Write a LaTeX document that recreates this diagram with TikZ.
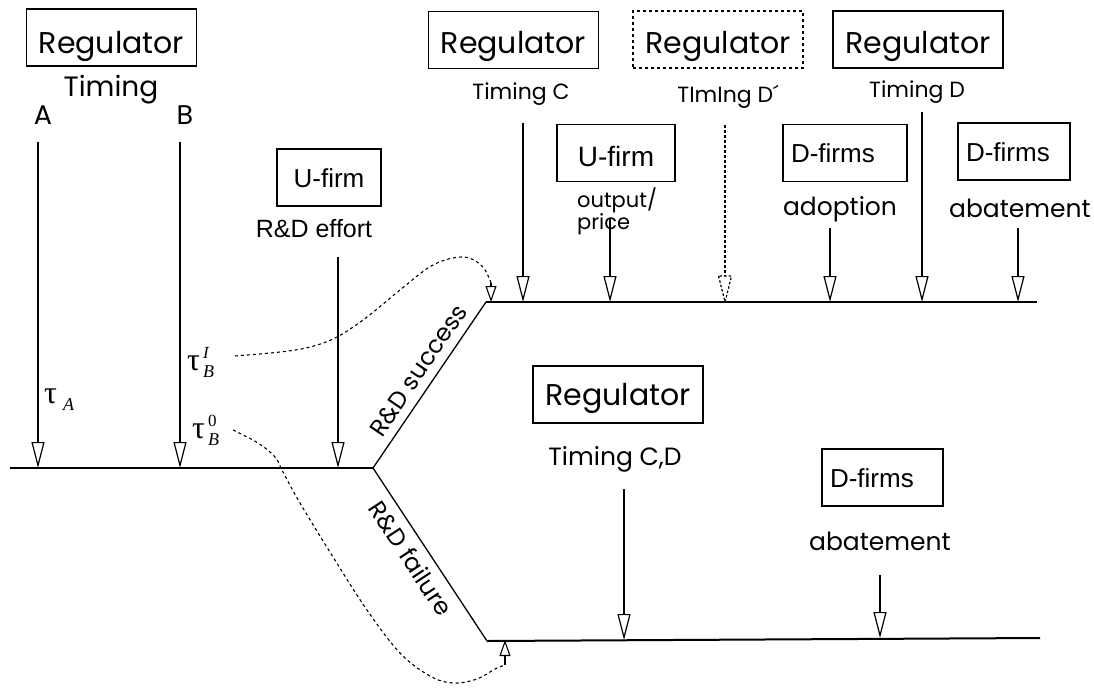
\documentclass[tikz,border=0pt]{standalone}
\usepackage{fontspec}
\newfontfamily\gf{Poppins}
\newfontfamily\af{Liberation Sans}
\newfontfamily\lsr{Liberation Serif}
\newcommand\taum{{\lsr\fontsize{32}{32}\selectfont τ}}
\newcommand\tsub[1]{\raisebox{-7pt}{\lsr\itshape\fontsize{18}{18}\selectfont #1}}
\newcommand\tsup[1]{\raisebox{12pt}{\rlap{\lsr\fontsize{17}{18}\selectfont #1}}}
\usetikzlibrary{arrows.meta}
\begin{document}
\begin{tikzpicture}[x=1pt,y=-1pt,
  reg/.style={draw, line width=1.5pt, minimum width=170pt, minimum height=57pt, inner sep=0pt,
    font=\gf\fontsize{30}{34}\selectfont, text depth=0pt},
  fbox/.style={draw, line width=1.3pt, minimum height=57pt, inner sep=0pt, text depth=0pt,
    font=\af\fontsize{26}{30}\selectfont},
  dfbox/.style={fbox, align=left, inner xsep=8pt, text height=19pt},
  lbl/.style={inner sep=0pt, anchor=base},
  gsmall/.style={font=\gf\fontsize{22}{26}\selectfont},
  gmid/.style={font=\gf\fontsize{25}{28}\selectfont},
  varrow/.style={line width=2.4pt, -{Triangle[open, length=26pt, width=13pt, line width=1.2pt]}},
  tline/.style={line width=2pt},
  brline/.style={line width=1.3pt},
  dcurve/.style={line width=1.1pt, dash pattern=on 3pt off 3pt},
  smallarr/.style={line width=1.1pt, -{Triangle[open, length=16pt, width=11pt, line width=1.1pt]}},
  taulbl/.style={inner sep=0pt, anchor=base west},
]
\path[use as bounding box] (0,0) rectangle (1094,688);

% boxes
\node[reg, text height=31pt] (R1) at (111.5,37.5) {Regulator};
\node[reg, text height=26pt] (R2) at (513.5,40) {Regulator};
\node[reg, line width=1.3pt, dash pattern=on 3pt off 3pt, text height=27pt] (R3) at (718,39.5) {Regulator};
\node[reg, text height=27pt] (R4) at (918,39.5) {Regulator};
\node[reg, text height=21pt] (R5) at (618,394.5) {Regulator};
\node[fbox, line width=1.5pt, minimum width=104pt, text height=19pt] (U1) at (329,177.5) {U-firm};
\node[fbox, line width=1.5pt, minimum width=118pt, font=\af\fontsize{28}{30}\selectfont, text height=26pt] (U2) at (616,153) {U-firm};
\node[dfbox, text width=108pt] (D1) at (845,153) {D-firms};
\node[dfbox, text width=96pt] (D2) at (1014,151.5) {D-firms};
\node[dfbox, text width=105pt] (D3) at (882.5,477.5) {D-firms};

% labels
\node[lbl, font=\gf\fontsize{28}{30}\selectfont] (tim) at (111,96) {Timing};
\node[lbl, font=\gf\fontsize{27}{28}\selectfont] (labA) at (43,124) {A};
\node[lbl, font=\gf\fontsize{27}{28}\selectfont] (labB) at (185,124) {B};
\node[lbl, font=\af\fontsize{25}{26}\selectfont] (rde) at (314,237) {R\&D effort};
\node[lbl, gsmall] (tC) at (521,99) {Timing C};
\node[lbl, gsmall] (tDp) at (728,102) {TImIng D´};
\node[lbl, gsmall] (tD) at (917,97) {Timing D};
\node[lbl, font=\gf\fontsize{21}{26}\selectfont, anchor=base west] (op1) at (577,207) {output/};
\node[lbl, font=\gf\fontsize{21}{26}\selectfont, anchor=base west] (op2) at (577,229) {price};
\node[lbl, gmid] (ado) at (840,215) {adoption};
\node[lbl, gmid] (abU) at (1020,217) {abatement};
\node[lbl, gmid] (tCD) at (615,465) {Timing C,D};
\node[lbl, gmid] (abL) at (880,550) {abatement};

\node[taulbl] (tauA) at (44,403) {\taum\hspace{6pt}\tsub{A}};
\node[taulbl] (tauBI) at (187,370) {\taum\hspace{3pt}\tsup{\itshape I}\tsub{B}};
\node[taulbl] (tauB0) at (192,438) {\taum\hspace{3pt}\tsup{0}\tsub{B}};

% timeline
\coordinate (L0) at (10,468);
\coordinate (Bp) at (373,468);
\coordinate (Us) at (486,302);
\coordinate (Ue) at (1037,302);
\coordinate (Ls) at (487,641);
\coordinate (Le) at (1040,638);
\draw[tline] (L0) -- (Bp);
\draw[brline] (Bp) -- node[sloped, above=8pt, pos=0.53, inner sep=0pt, font=\gf\fontsize{24}{26}\selectfont] (succ) {R\&D success} (Us);
\draw[brline] (Bp) -- node[sloped, below=8pt, pos=0.465, inner sep=0pt, font=\gf\fontsize{24}{26}\selectfont] (fail) {R\&D failure} (Ls);
\draw[tline] (Us) -- (Ue);
\draw[tline] (Ls) -- (Le);

% vertical arrows
\coordinate (aA0) at (38,142);  \coordinate (aA1) at (38,468);
\coordinate (aB0) at (180,142); \coordinate (aB1) at (180,468);
\coordinate (aE0) at (338,257); \coordinate (aE1) at (338,468);
\coordinate (aC0) at (523,123); \coordinate (aC1) at (523,302);
\coordinate (aO0) at (610,218); \coordinate (aO1) at (610,302);
\coordinate (aAd0) at (830,228); \coordinate (aAd1) at (830,302);
\coordinate (aD0) at (922,112); \coordinate (aD1) at (922,302);
\coordinate (aAb0) at (1018,228); \coordinate (aAb1) at (1018,302);
\coordinate (aCD0) at (624,489); \coordinate (aCD1) at (624,640);
\coordinate (aAL0) at (880,575); \coordinate (aAL1) at (880,638);
\foreach \s in {aA,aB,aE,aC,aO,aAd,aD,aAb,aCD,aAL}
  \draw[varrow] (\s0) -- (\s1);

% dashed arrow D'
\coordinate (dp0) at (725,125);
\coordinate (dp1) at (725,276);
\coordinate (dpL) at (718.5,276);
\coordinate (dpT) at (725,302);
\coordinate (dpR) at (731.5,276);
\draw[line width=2pt, dash pattern=on 3pt off 2pt] (dp0) -- (dp1);
\draw[line width=1.2pt, dash pattern=on 2.5pt off 2pt] (dpL) -- (dpT) -- (dpR) -- cycle;

% dashed curves
\coordinate (cU0) at (235,356);
\coordinate (cU1) at (491,283);
\coordinate (cUt) at (491,302);
\draw[dcurve] plot[smooth, tension=0.6] coordinates {(cU0) (280,352) (310,347) (337,337) (367,317) (400,290) (433,265) (463,257) (482,266) (cU1)};
\draw[smallarr] (cU1) -- (cUt);

\coordinate (cL0) at (233,430);
\coordinate (cL1) at (505,665);
\coordinate (cLt) at (505,640);
\draw[dcurve] plot[smooth, tension=0.6] coordinates {(cL0) (258,443) (275,457) (283,472) (300,503) (333,557) (367,610) (400,653) (430,676) (453,683) (477,679) (495,669) (cL1)};
\draw[smallarr] (cL1) -- (cLt);
\end{tikzpicture}
\end{document}
